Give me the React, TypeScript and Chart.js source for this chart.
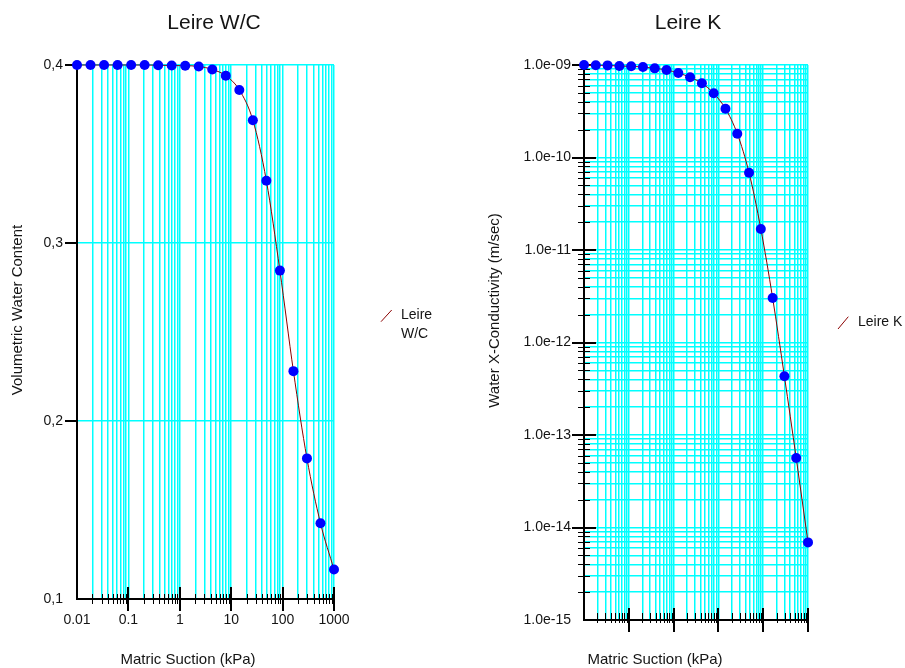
import React, { useEffect, useRef } from 'react';
import { Chart, registerables } from 'chart.js';

Chart.register(...registerables);

// ---------- data ----------
const suction = [
  0.01, 0.01833, 0.0336, 0.06158, 0.1129, 0.2069, 0.3793, 0.6952, 1.274, 2.336,
  4.281, 7.848, 14.38, 26.37, 48.33, 88.59, 162.4, 297.6, 545.6, 1000,
];
const waterContent = [
  0.4, 0.4, 0.4, 0.4, 0.4, 0.4, 0.3999, 0.3997, 0.3996, 0.3992,
  0.3975, 0.394, 0.386, 0.369, 0.335, 0.2845, 0.228, 0.179, 0.1426, 0.1166,
];
const conductivity = [
  1.0e-9, 0.993e-9, 0.99e-9, 0.975e-9, 0.968e-9, 0.951e-9, 0.92e-9, 0.883e-9, 0.819e-9, 0.736e-9,
  0.634e-9, 0.494e-9, 0.337e-9, 0.181e-9, 6.85e-11, 1.69e-11, 3.03e-12, 4.31e-13, 5.64e-14, 6.9e-15,
];

const suctionDecades = [0.01, 0.1, 1, 10, 100, 1000];
const suctionDecadeLabels = ['0.01', '0.1', '1', '10', '100', '1000'];
const mantissas = [1, 2, 3, 4, 5, 6, 7, 8, 9];
const wcTicks = [0.1, 0.2, 0.3, 0.4];
const wcTickLabels = ['0,1', '0,2', '0,3', '0,4'];
const kDecades = [1e-15, 1e-14, 1e-13, 1e-12, 1e-11, 1e-10, 1e-9];
const kDecadeLabels = ['1.0e-15', '1.0e-14', '1.0e-13', '1.0e-12', '1.0e-11', '1.0e-10', '1.0e-09'];

const wcTitle = 'Leire W/C';
const kTitle = 'Leire K';
const wcLegend = ['Leire', 'W/C'];
const kLegend = ['Leire K'];
const xTitle = 'Matric Suction (kPa)';
const wcYTitle = 'Volumetric Water Content';
const kYTitle = 'Water X-Conductivity (m/sec)';

// ---------- helpers ----------
const FAMILY = '"Liberation Sans", Arial, sans-serif';
const GRID = '#00ffff';
const TEXT = '#141414';
const GRID_WIDTH = 1.5;

function logTickValues(decades: number[]): number[] {
  const out: number[] = [];
  for (let i = 0; i < decades.length - 1; i++) {
    for (const m of mantissas) out.push(Number((m * decades[i]).toPrecision(6)));
  }
  out.push(decades[decades.length - 1]);
  return out;
}

function labelFor(value: number, decades: number[], labels: string[]): string {
  for (let i = 0; i < decades.length; i++) {
    if (Math.abs(value / decades[i] - 1) < 1e-6) return labels[i];
  }
  return '';
}

function isDecade(v: number): boolean {
  const l = Math.log10(v);
  return Math.abs(l - Math.round(l)) < 1e-6;
}

type TickSpec = {
  xMinor: [number, number];
  xMajor: [number, number];
  yMinor: [number, number] | null;
  yMajor: [number, number];
  yLog: boolean;
};

type TextSpec = {
  text: string;
  x: number;
  y: number;
  size: number;
  align: CanvasTextAlign;
  rotate?: boolean;
};

function decorPlugin(ticks: TickSpec, texts: TextSpec[], legendLine: [number, number, number, number]) {
  return {
    id: 'decor',
    beforeDatasetsDraw(chart: any) {
      const ctx = chart.ctx as CanvasRenderingContext2D;
      const area = chart.chartArea;
      const xs = chart.scales.x;
      const ys = chart.scales.y;
      ctx.save();
      ctx.strokeStyle = '#000';
      for (const t of xs.ticks) {
        if (t.value <= xs.min * (1 + 1e-9)) continue;
        const px = Math.round(xs.getPixelForValue(t.value));
        const major = isDecade(t.value);
        const [up, down] = major ? ticks.xMajor : ticks.xMinor;
        ctx.lineWidth = major ? 2 : 1;
        const off = major ? 0 : 0.5;
        ctx.beginPath();
        ctx.moveTo(px + off, area.bottom - up);
        ctx.lineTo(px + off, area.bottom + down);
        ctx.stroke();
      }
      for (const t of ys.ticks) {
        if (t.value <= ys.min * (1 + 1e-9)) continue;
        const py = Math.round(ys.getPixelForValue(t.value));
        const major = ticks.yLog ? isDecade(t.value) : true;
        const spec = major ? ticks.yMajor : ticks.yMinor;
        if (!spec) continue;
        const [left, right] = spec;
        ctx.lineWidth = major ? 2 : 1;
        const off = major ? 0 : 0.5;
        ctx.beginPath();
        ctx.moveTo(area.left - left, py + off);
        ctx.lineTo(area.left + right, py + off);
        ctx.stroke();
      }
      ctx.restore();
    },
    afterDraw(chart: any) {
      const ctx = chart.ctx as CanvasRenderingContext2D;
      ctx.save();
      ctx.fillStyle = TEXT;
      ctx.textBaseline = 'middle';
      for (const t of texts) {
        ctx.font = `${t.size}px ${FAMILY}`;
        ctx.textAlign = t.align;
        if (t.rotate) {
          ctx.save();
          ctx.translate(t.x, t.y);
          ctx.rotate(-Math.PI / 2);
          ctx.fillText(t.text, 0, 0);
          ctx.restore();
        } else {
          ctx.fillText(t.text, t.x, t.y);
        }
      }
      const ds = chart.data.datasets[0];
      ctx.strokeStyle = ds.borderColor;
      ctx.lineWidth = 1;
      ctx.beginPath();
      ctx.moveTo(legendLine[0], legendLine[1]);
      ctx.lineTo(legendLine[2], legendLine[3]);
      ctx.stroke();
      ctx.restore();
    },
  };
}

function makeDataset(label: string, ys: number[]) {
  return {
    label,
    data: suction.map((x, i) => ({ x, y: ys[i] })),
    borderColor: '#8b0000',
    borderWidth: 1,
    pointRadius: 5,
    pointBackgroundColor: '#0000ff',
    pointBorderColor: '#0000ff',
    pointBorderWidth: 0,
    cubicInterpolationMode: 'monotone' as const,
    clip: false as any,
    fill: false,
  };
}

const xTickValues = logTickValues(suctionDecades);
const kTickValues = logTickValues(kDecades);

const gridOpts = {
  color: () => GRID,
  lineWidth: () => GRID_WIDTH,
  drawTicks: false,
};

function baseX(showLabels: boolean, height: number, padding: number) {
  return {
    type: 'logarithmic' as const,
    min: 0.01,
    max: 1000,
    afterBuildTicks: (s: any) => {
      s.ticks = xTickValues.map((v) => ({ value: v }));
    },
    afterFit: (s: any) => {
      s.height = height;
      s.paddingLeft = 0;
      s.paddingRight = 0;
    },
    grid: gridOpts,
    border: { display: true, color: '#000', width: 2 },
    ticks: {
      display: showLabels,
      autoSkip: false,
      maxRotation: 0,
      minRotation: 0,
      padding,
      color: TEXT,
      font: { family: FAMILY, size: 14 },
      callback: (v: any) => labelFor(Number(v), suctionDecades, suctionDecadeLabels),
    },
  };
}

function WCChart() {
  const ref = useRef<HTMLCanvasElement>(null);
  useEffect(() => {
    const chart = new Chart(ref.current!, {
      type: 'line',
      data: { datasets: [makeDataset('Leire W/C', waterContent)] },
      options: {
        animation: false,
        responsive: false,
        events: [],
        layout: { padding: { top: 65, left: 0, right: 136, bottom: 0 } },
        plugins: { legend: { display: false }, title: { display: false }, tooltip: { enabled: false } },
        scales: {
          x: baseX(true, 69, 13) as any,
          y: {
            type: 'linear',
            min: 0.1,
            max: 0.4,
            afterBuildTicks: (s: any) => {
              s.ticks = wcTicks.map((v) => ({ value: v }));
            },
            afterFit: (s: any) => {
              s.width = 77;
              s.paddingTop = 0;
              s.paddingBottom = 0;
            },
            grid: gridOpts,
            border: { display: true, color: '#000', width: 2 },
            ticks: {
              autoSkip: false,
              padding: 14,
              color: TEXT,
              font: { family: FAMILY, size: 14 },
              callback: (v: any) => labelFor(Number(v), wcTicks, wcTickLabels),
            },
          } as any,
        },
      },
      plugins: [
        decorPlugin(
          { xMinor: [5, 5], xMajor: [12, 12], yMinor: null, yMajor: [12, 0], yLog: false },
          [
            { text: wcTitle, x: 214, y: 23.5, size: 21, align: 'center' },
            { text: wcYTitle, x: 18, y: 310, size: 15, align: 'center', rotate: true },
            { text: xTitle, x: 188, y: 659.5, size: 15, align: 'center' },
            { text: wcLegend[0], x: 401, y: 315, size: 14, align: 'left' },
            { text: wcLegend[1], x: 401, y: 334, size: 14, align: 'left' },
          ],
          [381, 321.7, 391.7, 310],
        ),
      ],
    });
    return () => chart.destroy();
  }, []);
  return <canvas ref={ref} width={470} height={668} style={{ position: 'absolute', left: 0, top: 0 }} />;
}

function KChart() {
  const ref = useRef<HTMLCanvasElement>(null);
  useEffect(() => {
    const chart = new Chart(ref.current!, {
      type: 'line',
      data: { datasets: [makeDataset('Leire K', conductivity)] },
      options: {
        animation: false,
        responsive: false,
        events: [],
        layout: { padding: { top: 65, left: 0, right: 97, bottom: 0 } },
        plugins: { legend: { display: false }, title: { display: false }, tooltip: { enabled: false } },
        scales: {
          x: baseX(false, 48, 13) as any,
          y: {
            type: 'logarithmic',
            min: 1e-15,
            max: 1e-9,
            afterBuildTicks: (s: any) => {
              s.ticks = kTickValues.map((v) => ({ value: v }));
            },
            afterFit: (s: any) => {
              s.width = 114;
              s.paddingTop = 0;
              s.paddingBottom = 0;
            },
            grid: gridOpts,
            border: { display: true, color: '#000', width: 2 },
            ticks: {
              autoSkip: false,
              padding: 13,
              color: TEXT,
              font: { family: FAMILY, size: 14 },
              callback: (v: any) => labelFor(Number(v), kDecades, kDecadeLabels),
            },
          } as any,
        },
      },
      plugins: [
        decorPlugin(
          { xMinor: [7, 3], xMajor: [12, 12], yMinor: [6, 6], yMajor: [12, 12], yLog: true },
          [
            { text: kTitle, x: 218, y: 23.5, size: 21, align: 'center' },
            { text: kYTitle, x: 25, y: 310.5, size: 15, align: 'center', rotate: true },
            { text: xTitle, x: 185, y: 659.5, size: 15, align: 'center' },
            { text: kLegend[0], x: 388, y: 322.5, size: 14, align: 'left' },
          ],
          [368, 329, 378.3, 316.7],
        ),
      ],
    });
    return () => chart.destroy();
  }, []);
  return <canvas ref={ref} width={435} height={668} style={{ position: 'absolute', left: 470, top: 0 }} />;
}

export default function App() {
  return (
    <div style={{ position: 'absolute', left: 0, top: 0, width: 905, height: 668, background: '#fff', overflow: 'hidden' }}>
      <WCChart />
      <KChart />
    </div>
  );
}
